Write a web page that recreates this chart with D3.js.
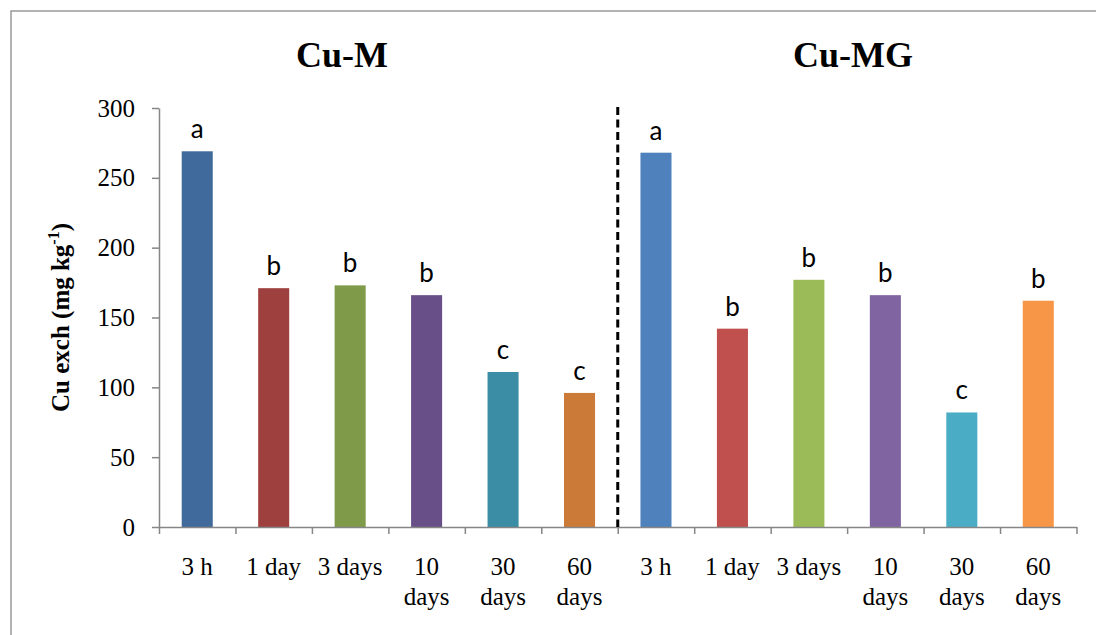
<!DOCTYPE html>
<html>
<head>
<meta charset="utf-8">
<script src="https://cdn.jsdelivr.net/npm/d3@7"></script>
<style>
  body { margin: 0; background: #fff; }
  .serif { font-family: "Liberation Serif", "Times New Roman", serif; }
</style>
</head>
<body>
<div class="chart"></div>
<script>
// values
var times = ["3 h", "1 day", "3 days", "10 days", "30 days", "60 days"];
var cuM = [269, 171, 173, 166, 111, 96];
var cuMG = [268, 142, 177, 166, 82, 162];
var lettersM = ["a", "b", "b", "b", "c", "c"];
var lettersMG = ["a", "b", "b", "b", "c", "b"];
var yTicks = [0, 50, 100, 150, 200, 250, 300];

var colorsM = ["#3F6A9B", "#9E413E", "#7F9A48", "#684F87", "#3A8DA5", "#CC7A37"];
var colorsMG = ["#4F81BD", "#C0504D", "#9BBB59", "#8064A2", "#4BACC6", "#F79646"];

var svgWidth = 1096;
var svgHeight = 635;

var svg = d3.select(".chart")
    .append("svg")
    .attr("width", svgWidth)
    .attr("height", svgHeight);

// outer frame (only left and top edges are visible)
svg.append("rect")
    .attr("x", 11)
    .attr("y", 11)
    .attr("width", svgWidth + 20)
    .attr("height", svgHeight + 20)
    .attr("fill", "none")
    .attr("stroke", "#8a8a8a")
    .attr("stroke-width", 1.3);

// build the 12 bars from the two series
var data = [];
times.forEach(function(t, i) {
    data.push({ key: "M" + i, label: t, value: cuM[i], letter: lettersM[i], color: colorsM[i] });
});
times.forEach(function(t, i) {
    data.push({ key: "MG" + i, label: t, value: cuMG[i], letter: lettersMG[i], color: colorsMG[i] });
});

var x0 = 159, x1 = 1076.5;
var yBottom = 527, yTop = 108;

var xScale = d3.scaleBand()
    .domain(data.map(function(d) { return d.key; }))
    .range([x0, x1])
    .paddingInner(0.594)
    .paddingOuter(0.297);

var yScale = d3.scaleLinear()
    .domain([0, 300])
    .range([yBottom, yTop]);

// bars
svg.selectAll("rect.bar")
    .data(data)
    .enter()
    .append("rect")
    .attr("class", "bar")
    .attr("x", function(d) { return xScale(d.key); })
    .attr("y", function(d) { return yScale(d.value); })
    .attr("width", xScale.bandwidth())
    .attr("height", function(d) { return yScale(0) - yScale(d.value); })
    .attr("fill", function(d) { return d.color; });

// significance letters
svg.selectAll("text.letter")
    .data(data)
    .enter()
    .append("text")
    .attr("class", "letter")
    .attr("x", function(d) { return xScale(d.key) + xScale.bandwidth() / 2; })
    .attr("y", function(d) { return yScale(d.value) - 13; })
    .attr("text-anchor", "middle")
    .attr("font-family", "Lato, 'Open Sans', sans-serif")
    .attr("font-size", "26px")
    .attr("fill", "#000")
    .text(function(d) { return d.letter; });

// y axis
var leftAxis = d3.axisLeft(yScale)
    .tickValues(yTicks)
    .tickSize(7)
    .tickSizeOuter(0)
    .tickPadding(17);

var gy = svg.append("g")
    .attr("transform", "translate(" + x0 + ",0)")
    .call(leftAxis);
gy.selectAll("path, line").attr("stroke", "#868686").attr("stroke-width", 1.5);
gy.selectAll("text")
    .attr("class", "serif")
    .attr("font-size", "25px")
    .attr("fill", "#000");
gy.attr("font-family", null);

// x axis: ticks between categories
var boundary = d3.scaleLinear().domain([0, data.length]).range([x0, x1]);
var bottomAxis = d3.axisBottom(boundary)
    .tickValues(d3.range(0, data.length + 1))
    .tickSize(7)
    .tickSizeOuter(0)
    .tickFormat("");

var gx = svg.append("g")
    .attr("transform", "translate(0," + yBottom + ")")
    .call(bottomAxis);
gx.selectAll("path, line").attr("stroke", "#868686").attr("stroke-width", 1.5);

// category labels (two lines when needed)
var catLabels = svg.selectAll("text.cat")
    .data(data)
    .enter()
    .append("text")
    .attr("class", "cat serif")
    .attr("text-anchor", "middle")
    .attr("font-size", "25px")
    .attr("fill", "#000")
    .attr("x", function(d) { return xScale(d.key) + xScale.bandwidth() / 2; })
    .attr("y", 575);

catLabels.each(function(d) {
    var el = d3.select(this);
    var parts = d.label.split(" ");
    var cx = xScale(d.key) + xScale.bandwidth() / 2;
    if (parts[0].length >= 2 && parts[1] === "days") {
        el.append("tspan").attr("x", cx).attr("dy", 0).text(parts[0]);
        el.append("tspan").attr("x", cx).attr("dy", 30).text(parts[1]);
    } else {
        el.text(d.label);
    }
});

// dashed divider between the two treatments
svg.append("line")
    .attr("x1", boundary(6))
    .attr("x2", boundary(6))
    .attr("y1", yTop - 1)
    .attr("y2", yBottom)
    .attr("stroke", "#000")
    .attr("stroke-width", 3)
    .attr("stroke-dasharray", "8,4.5");

// panel titles
svg.append("text")
    .attr("class", "serif")
    .attr("x", 342)
    .attr("y", 67)
    .attr("text-anchor", "middle")
    .attr("font-size", "36px")
    .attr("font-weight", "bold")
    .text("Cu-M");

svg.append("text")
    .attr("class", "serif")
    .attr("x", 853)
    .attr("y", 67)
    .attr("text-anchor", "middle")
    .attr("font-size", "36px")
    .attr("font-weight", "bold")
    .text("Cu-MG");

// y axis title
var yTitle = svg.append("text")
    .attr("class", "serif")
    .attr("transform", "translate(69," + ((yTop + yBottom) / 2) + ") rotate(-90)")
    .attr("text-anchor", "middle")
    .attr("font-size", "25px")
    .attr("font-weight", "bold");
yTitle.append("tspan").text("Cu exch (mg kg");
yTitle.append("tspan").attr("font-size", "16px").attr("dy", -10).text("-1");
yTitle.append("tspan").attr("dy", 10).text(")");
</script>
</body>
</html>
